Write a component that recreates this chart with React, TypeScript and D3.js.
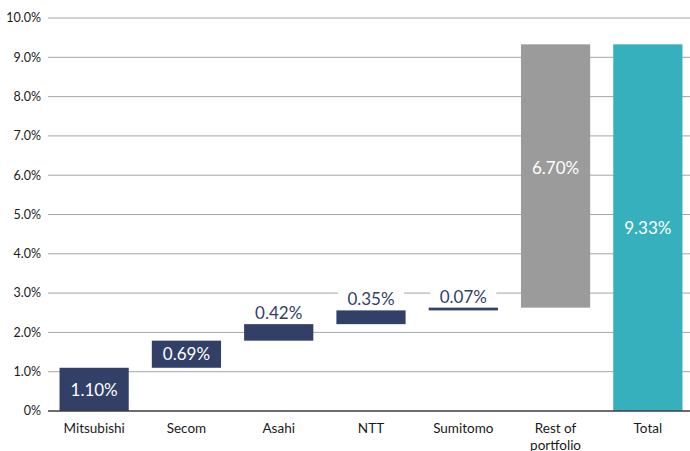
import * as d3 from 'd3'

const categories = ['Mitsubishi', 'Secom', 'Asahi', 'NTT', 'Sumitomo', 'Rest of portfolio', 'Total']
const contributions = [1.1, 0.69, 0.42, 0.35, 0.07, 6.7, 9.33]
const kinds = ['step', 'step', 'step', 'step', 'step', 'rest', 'total']
const yTicks = [0, 1, 2, 3, 4, 5, 6, 7, 8, 9, 10]

const WIDTH = 690
const HEIGHT = 451
const NAVY = '#324068'
const GREY = '#9b9b9b'
const TEAL = '#35b0bc'
const FONT = 'Lato, "Noto Sans", sans-serif'

// running totals for the waterfall
const bars = (() => {
  let acc = 0
  return categories.map((name, i) => {
    const v = contributions[i]
    if (kinds[i] === 'total') return { name, v, y0: 0, y1: v, kind: kinds[i] }
    const y0 = acc
    acc += v
    return { name, v, y0, y1: acc, kind: kinds[i] }
  })
})()

export default function App() {
  const x = d3.scaleBand().domain(categories).range([48, 694]).paddingInner(0.25).paddingOuter(0.125)
  const y = d3.scaleLinear().domain([0, 10]).range([411, 18])
  const color = (k: string) => (k === 'rest' ? GREY : k === 'total' ? TEAL : NAVY)

  return (
    <svg
      width={WIDTH}
      height={HEIGHT}
      style={{ position: 'absolute', left: 0, top: 0, background: '#fff' }}
      fontFamily={FONT}
    >
      {yTicks.map((t) => (
        <g key={t}>
          {t > 0 && <line x1={48} x2={WIDTH} y1={y(t)} y2={y(t)} stroke="#a6a6a6" strokeWidth={1} />}
          <text x={41} y={y(t)} dy="0.35em" textAnchor="end" fontSize={12.5} fill="#1a1a1a">
            {t === 0 ? '0%' : `${t.toFixed(1)}%`}
          </text>
        </g>
      ))}
      {bars.map((b) => {
        const bx = x(b.name)!
        const bw = x.bandwidth()
        const top = y(b.y1)
        const bottom = y(b.y0)
        const h = bottom - top
        const label = `${b.v.toFixed(2)}%`
        const inside = h > 24
        const cx = bx + bw / 2
        const ly = b.kind === 'rest' ? (top + bottom) / 2 - 8 : (top + bottom) / 2
        return (
          <g key={b.name}>
            <rect x={bx} y={top} width={bw} height={Math.max(h, 2.5)} fill={color(b.kind)} />
            {inside ? (
              <text x={cx} y={ly} dy="0.36em" textAnchor="middle" fontSize={17} fill="#fff">
                {label}
              </text>
            ) : (
              <g>
                <rect x={cx - 33} y={top - 24} width={66} height={20} fill="#fff" />
                <text x={cx} y={top - 5} textAnchor="middle" fontSize={17} fill={NAVY}>
                  {label}
                </text>
              </g>
            )}
          </g>
        )
      })}
      <line x1={48} x2={WIDTH} y1={y(0)} y2={y(0)} stroke="#3c3c3c" strokeWidth={1.5} />
      {categories.map((c) => {
        const lines = c === 'Rest of portfolio' ? ['Rest of', 'portfolio'] : [c]
        return (
          <text key={c} x={x(c)! + x.bandwidth() / 2} y={433} textAnchor="middle" fontSize={13.5} fill="#1a1a1a">
            {lines.map((l, i) => (
              <tspan key={l} x={x(c)! + x.bandwidth() / 2} dy={i === 0 ? 0 : 17}>
                {l}
              </tspan>
            ))}
          </text>
        )
      })}
    </svg>
  )
}
